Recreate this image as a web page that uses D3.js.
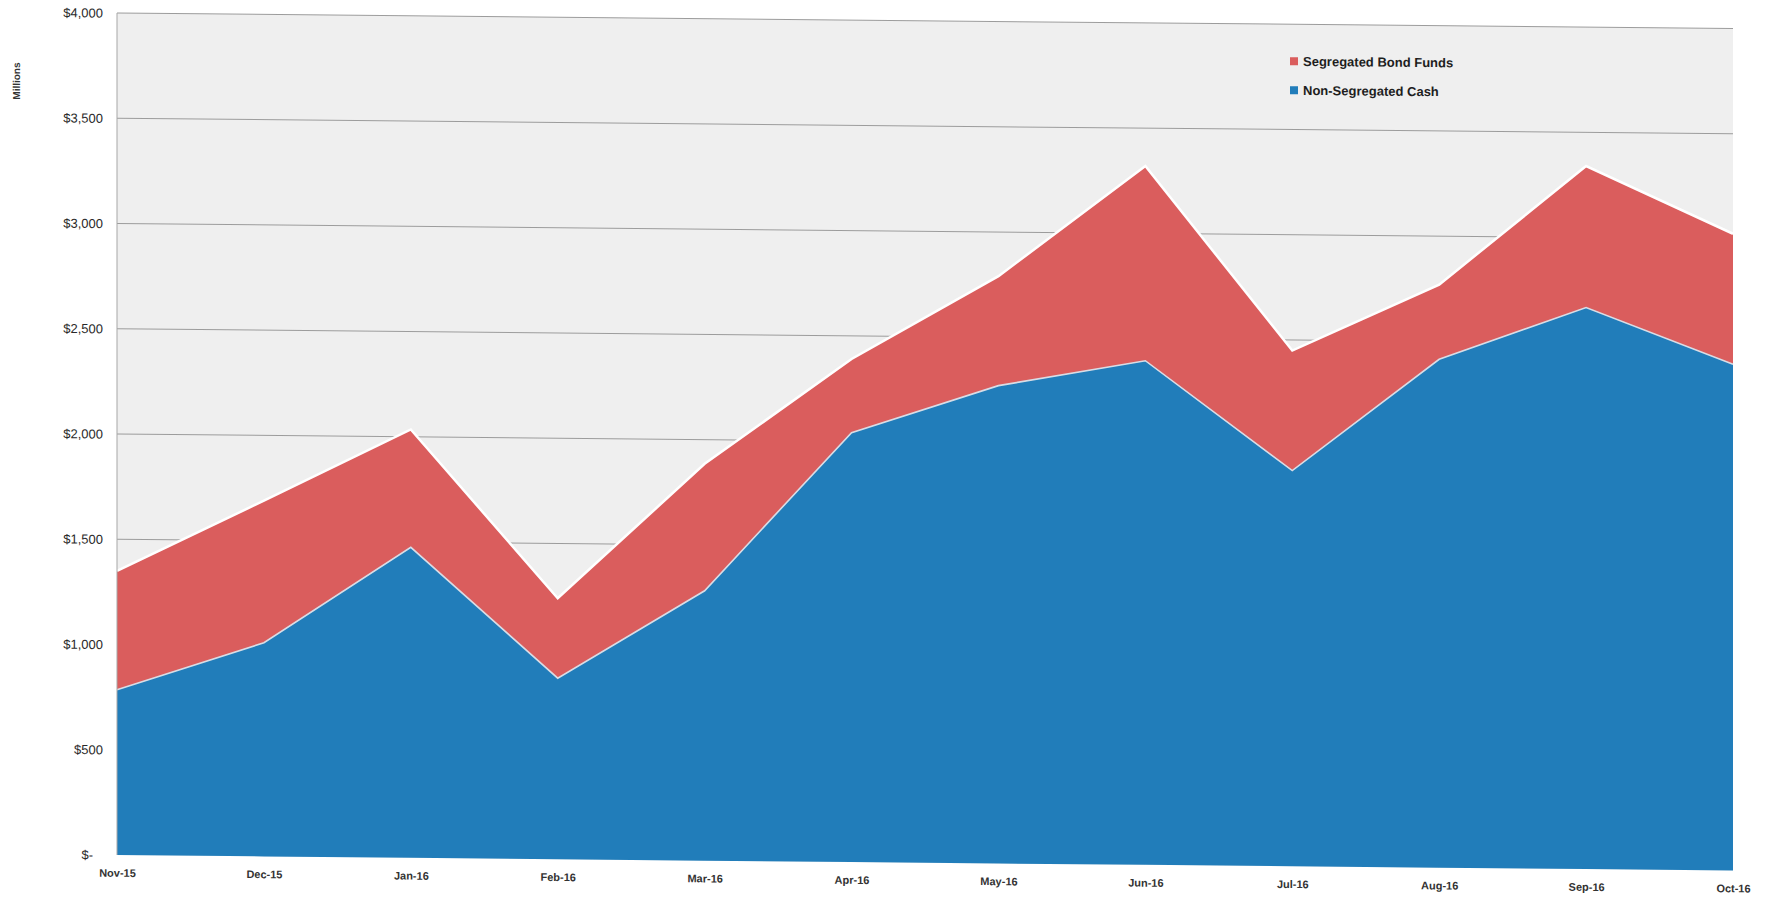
<!DOCTYPE html>
<html>
<head>
<meta charset="utf-8">
<script src="https://cdn.jsdelivr.net/npm/d3@7"></script>
<style>
  html, body { margin: 0; padding: 0; background: #ffffff; }
  svg { display: block; }
  text { font-family: "Liberation Sans", Arial, sans-serif; }
</style>
</head>
<body>
<svg id="chart" width="1766" height="899"></svg>
<script>
// ---- Data (USD millions) ----
const months = ["Nov-15","Dec-15","Jan-16","Feb-16","Mar-16","Apr-16","May-16","Jun-16","Jul-16","Aug-16","Sep-16","Oct-16"];
const nonSegregatedCash   = [785, 1015, 1475, 860, 1282, 2040, 2270, 2395, 1880, 2415, 2668, 2405];
const segregatedBondFunds = [565,  675,  560, 380,  603,  350,  520,  925,  570,  355,  672,  620];
const yTickValues = [0, 500, 1000, 1500, 2000, 2500, 3000, 3500, 4000];
const yTickLabels = ["$-", "$500", "$1,000", "$1,500", "$2,000", "$2,500", "$3,000", "$3,500", "$4,000"];
const seriesNames = ["Segregated Bond Funds", "Non-Segregated Cash"];

// ---- Layout ----
const L = 117, R = 1733, T = 13, B = 855;
const colors = { cash: "#217DBA", bond: "#DA5D5D" };

const svg = d3.select("#chart");
// slight skew to mimic the scanned page
const g = svg.append("g").attr("transform", `translate(${L},${T}) skewY(0.55) translate(${-L},${-T})`);

const x = d3.scalePoint().domain(months).range([L, R]);
const y = d3.scaleLinear().domain([0, 4000]).range([B, T]);

const rows = months.map((m, i) => ({ month: m, cash: nonSegregatedCash[i], bond: segregatedBondFunds[i] }));
const stacked = d3.stack().keys(["cash", "bond"])(rows);

// plot background
g.append("rect").attr("x", L).attr("y", T).attr("width", R - L).attr("height", B - T).attr("fill", "#EFEFEF");

// gridlines
g.append("g").selectAll("line").data(yTickValues.filter(v => v > 0)).join("line")
  .attr("x1", L).attr("x2", R).attr("y1", d => y(d)).attr("y2", d => y(d))
  .attr("stroke", "#9c9c9c").attr("stroke-width", 1);

// areas
const area = d3.area().x(d => x(d.data.month)).y0(d => y(d[0])).y1(d => y(d[1]));
g.append("g").selectAll("path").data(stacked).join("path")
  .attr("d", area)
  .attr("fill", d => colors[d.key]);

// top outlines
const topLine = d3.line().x(d => x(d.data.month)).y(d => y(d[1]));
g.append("path").datum(stacked[1]).attr("d", topLine)
  .attr("fill", "none").attr("stroke", "#ffffff").attr("stroke-width", 2.5);
g.append("path").datum(stacked[0]).attr("d", topLine)
  .attr("fill", "none").attr("stroke", "#d8dde6").attr("stroke-width", 1.6);

// left axis line
g.append("line").attr("x1", L).attr("x2", L).attr("y1", T).attr("y2", B)
  .attr("stroke", "#a8a8a8").attr("stroke-width", 1);

// y axis
const yAxis = g.append("g").attr("transform", `translate(${L},0)`)
  .call(d3.axisLeft(y).tickValues(yTickValues).tickFormat((d, i) => yTickLabels[i]).tickSize(0).tickPadding(14));
yAxis.select(".domain").remove();
yAxis.selectAll("text").attr("font-size", 13).attr("fill", "#2a2a2a")
  .attr("font-family", "Liberation Sans, Arial, sans-serif")
  .attr("dx", (d) => d === 0 ? -10 : 0);

// x axis
const xAxis = g.append("g").attr("transform", `translate(0,${B})`)
  .call(d3.axisBottom(x).tickSize(0).tickPadding(14));
xAxis.select(".domain").remove();
xAxis.selectAll("text").attr("font-size", 11).attr("font-weight", "bold").attr("fill", "#333333")
  .attr("font-family", "Liberation Sans, Arial, sans-serif");

// y axis title
g.append("text").attr("transform", "translate(20,82) rotate(-90)")
  .attr("text-anchor", "middle").attr("font-size", 10).attr("font-weight", "bold")
  .attr("fill", "#333333").text("Millions");

// legend
const legend = g.append("g").attr("transform", "translate(1290,50)");
const legendColors = [colors.bond, colors.cash];
seriesNames.forEach((name, i) => {
  const row = legend.append("g").attr("transform", `translate(0,${i * 29})`);
  row.append("rect").attr("x", 0).attr("y", -4).attr("width", 8).attr("height", 8).attr("fill", legendColors[i]);
  row.append("text").attr("x", 13).attr("y", 0).attr("dominant-baseline", "central")
    .attr("font-size", 13).attr("font-weight", "bold").attr("fill", "#1e1e1e").text(name);
});
</script>
</body>
</html>
